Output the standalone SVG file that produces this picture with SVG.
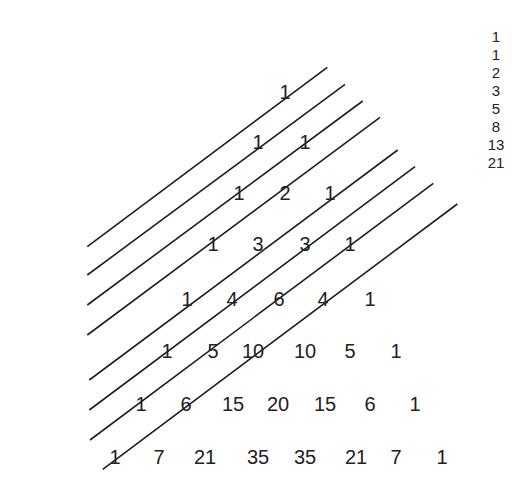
<svg xmlns="http://www.w3.org/2000/svg" width="512" height="486" viewBox="0 0 512 486">
<style>
.n{font-family:"Liberation Sans",Arial,sans-serif;font-size:20px;fill:#222;text-anchor:middle}
.f{font-family:"Liberation Sans",Arial,sans-serif;font-size:15px;fill:#222;text-anchor:middle}
.l{stroke:#1e1e1e;stroke-width:1.6;fill:none}
</style>
<rect width="512" height="486" fill="#fff"/>
<g id="connectors">
<line class="l" x1="87.3" y1="246.7" x2="327.3" y2="67.3"/>
<line class="l" x1="87.3" y1="275" x2="345" y2="84.3"/>
<line class="l" x1="87.3" y1="305" x2="362.7" y2="101"/>
<line class="l" x1="87.3" y1="335" x2="380" y2="117.3"/>
<line class="l" x1="89.3" y1="380" x2="397.7" y2="150"/>
<line class="l" x1="89.3" y1="410" x2="415" y2="166.7"/>
<line class="l" x1="90" y1="440" x2="433.3" y2="183.3"/>
<line class="l" x1="102.7" y1="469.3" x2="457.3" y2="204"/>
</g>
<g id="row0"><text class="n" x="285" y="99">1</text></g>
<g id="row1"><text class="n" x="258" y="149">1</text><text class="n" x="305" y="149">1</text></g>
<g id="row2"><text class="n" x="239" y="200">1</text><text class="n" x="285" y="200">2</text><text class="n" x="330" y="200">1</text></g>
<g id="row3"><text class="n" x="213" y="251">1</text><text class="n" x="258" y="251">3</text><text class="n" x="305" y="251">3</text><text class="n" x="350" y="251">1</text></g>
<g id="row4"><text class="n" x="187" y="306">1</text><text class="n" x="232" y="306">4</text><text class="n" x="279" y="306">6</text><text class="n" x="323" y="306">4</text><text class="n" x="370" y="306">1</text></g>
<g id="row5"><text class="n" x="167" y="358">1</text><text class="n" x="213" y="358">5</text><text class="n" x="253" y="358">10</text><text class="n" x="305" y="358">10</text><text class="n" x="350" y="358">5</text><text class="n" x="396" y="358">1</text></g>
<g id="row6"><text class="n" x="141" y="411">1</text><text class="n" x="186" y="411">6</text><text class="n" x="233" y="411">15</text><text class="n" x="278" y="411">20</text><text class="n" x="325" y="411">15</text><text class="n" x="370" y="411">6</text><text class="n" x="415" y="411">1</text></g>
<g id="row7"><text class="n" x="115" y="464">1</text><text class="n" x="159" y="464">7</text><text class="n" x="205" y="464">21</text><text class="n" x="258" y="464">35</text><text class="n" x="305" y="464">35</text><text class="n" x="356" y="464">21</text><text class="n" x="396" y="464">7</text><text class="n" x="442" y="464">1</text></g>
<g id="fibonacci">
<text class="f" x="496" y="42">1</text>
<text class="f" x="496" y="60">1</text>
<text class="f" x="496" y="78">2</text>
<text class="f" x="496" y="96">3</text>
<text class="f" x="496" y="114">5</text>
<text class="f" x="496" y="132">8</text>
<text class="f" x="496" y="150">13</text>
<text class="f" x="496" y="168">21</text>
</g>
</svg>
